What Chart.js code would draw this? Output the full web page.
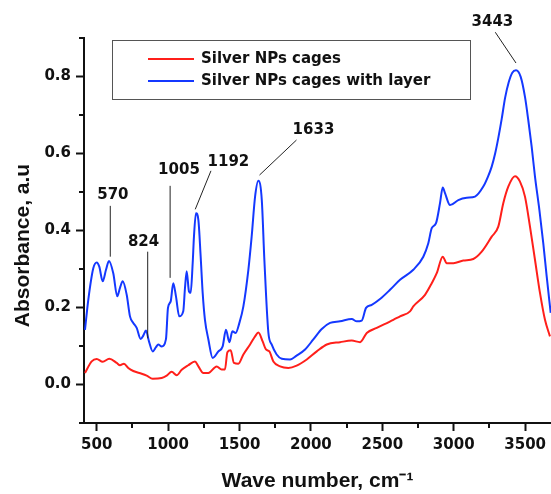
<!DOCTYPE html>
<html><head><meta charset="utf-8">
<script src="https://cdn.jsdelivr.net/npm/chart.js@4.4.1/dist/chart.umd.min.js"></script>
<style>html,body{margin:0;padding:0;background:#fff;overflow:hidden}#wrap{width:551px;height:494px;position:relative}</style>
</head><body><div id="wrap"><canvas id="c" width="551" height="494"></canvas></div>
<script>
// ---- data ----
const seriesLabels = ['Silver NPs cages', 'Silver NPs cages with layer'];
const yAxisTitle = 'Absorbance, a.u';
const xAxisTitle = 'Wave number, cm\u207B\u00B9';

const redWavenumber = [418,465,500,542,588,640,663,691,721,756,815,850,892,955,990,1025,1060,1095,1141,1188,1212,1247,1282,1340,1375,1398,1415,1438,1461,1492,1527,1574,1609,1632,1662,1685,1709,1737,1784,1842,1900,1971,2041,2111,2204,2286,2344,2391,2461,2577,2624,2694,2717,2799,2846,2881,2923,2951,2998,3067,3137,3196,3266,3312,3347,3382,3429,3464,3499,3534,3569,3604,3639,3674];
const redAbsorbance = [0.030,0.060,0.066,0.059,0.067,0.056,0.050,0.054,0.043,0.035,0.028,0.023,0.015,0.017,0.023,0.033,0.024,0.038,0.050,0.060,0.047,0.030,0.030,0.047,0.039,0.039,0.084,0.089,0.056,0.054,0.078,0.104,0.125,0.135,0.112,0.091,0.086,0.060,0.047,0.043,0.049,0.065,0.086,0.104,0.110,0.114,0.110,0.134,0.147,0.168,0.177,0.190,0.203,0.233,0.263,0.289,0.332,0.315,0.315,0.322,0.326,0.345,0.384,0.410,0.471,0.514,0.541,0.527,0.488,0.410,0.324,0.238,0.168,0.125];

const blueWavenumber = [418,441,476,500,518,542,565,586,616,644,663,682,710,733,756,780,808,826,845,866,892,915,931,955,985,999,1018,1036,1055,1078,1106,1118,1130,1146,1158,1172,1181,1195,1212,1228,1242,1258,1282,1312,1352,1382,1405,1429,1450,1473,1499,1527,1562,1585,1609,1632,1656,1674,1702,1725,1760,1796,1854,1900,1959,2017,2076,2134,2204,2286,2321,2356,2386,2426,2484,2554,2624,2717,2787,2822,2846,2876,2904,2923,2939,2974,3032,3091,3149,3207,3240,3266,3290,3312,3336,3360,3385,3410,3436,3469,3499,3522,3546,3569,3600,3627,3651,3679];
const blueAbsorbance = [0.142,0.220,0.302,0.317,0.306,0.268,0.298,0.321,0.289,0.229,0.251,0.268,0.233,0.177,0.160,0.147,0.118,0.127,0.140,0.112,0.086,0.097,0.104,0.099,0.118,0.199,0.216,0.263,0.229,0.177,0.190,0.250,0.294,0.242,0.238,0.315,0.384,0.445,0.427,0.332,0.238,0.168,0.117,0.069,0.086,0.099,0.142,0.110,0.138,0.134,0.160,0.203,0.298,0.384,0.488,0.529,0.479,0.324,0.135,0.104,0.078,0.067,0.065,0.075,0.091,0.117,0.144,0.160,0.164,0.170,0.164,0.166,0.199,0.207,0.222,0.246,0.272,0.298,0.332,0.367,0.406,0.419,0.471,0.512,0.497,0.466,0.479,0.485,0.488,0.514,0.540,0.566,0.600,0.640,0.690,0.745,0.785,0.810,0.816,0.799,0.747,0.687,0.617,0.540,0.453,0.367,0.281,0.186];

const xTickValues = [500,750,1000,1250,1500,1750,2000,2250,2500,2750,3000,3250,3500];
const xLabelValues = [500,1000,1500,2000,2500,3000,3500];
const yTickValues = [-0.1,0,0.1,0.2,0.3,0.4,0.5,0.6,0.7,0.8,0.9];
const yLabelValues = [0,0.2,0.4,0.6,0.8];

// peak callouts: label text, text anchor and leader line (in data units)
const peakCallouts = [
  {text:'570',  tx:613,  ty:0.492, x1:595,  y1:0.464, x2:595,  y2:0.332},
  {text:'824',  tx:828,  ty:0.369, x1:857,  y1:0.345, x2:857,  y2:0.120},
  {text:'1005', tx:1076, ty:0.557, x1:1014, y1:0.516, x2:1014, y2:0.277},
  {text:'1192', tx:1422, ty:0.578, x1:1300, y1:0.555, x2:1190, y2:0.455},
  {text:'1633', tx:2018, ty:0.662, x1:1899, y1:0.635, x2:1640, y2:0.544},
  {text:'3443', tx:3271, ty:0.941, x1:3291, y1:0.915, x2:3436, y2:0.835}
];

const toXY = (xs, ys) => xs.map((x, i) => ({x: x, y: ys[i]}));
const TICK_FONT = {family: 'DejaVu Sans', weight: 'bold', size: 15};
const INK = '#111';

const minorTicks = {
  id: 'minorTicks',
  afterDraw(chart) {
    const ctx = chart.ctx, xs = chart.scales.x, ys = chart.scales.y;
    ctx.save();
    ctx.strokeStyle = INK; ctx.lineWidth = 2;
    xTickValues.filter(v => !xLabelValues.includes(v)).forEach(v => {
      const px = Math.round(xs.getPixelForValue(v));
      ctx.beginPath(); ctx.moveTo(px, xs.top); ctx.lineTo(px, xs.top + 5); ctx.stroke();
    });
    yTickValues.filter(v => !yLabelValues.some(l => Math.abs(l - v) < 1e-6)).forEach(v => {
      const py = Math.round(ys.getPixelForValue(v));
      ctx.beginPath(); ctx.moveTo(ys.right, py); ctx.lineTo(ys.right - 5, py); ctx.stroke();
    });
    // y axis title, centred a little below the middle of the plot as in the source
    ctx.translate(23, (ys.top + ys.bottom) / 2 + 15);
    ctx.rotate(-Math.PI / 2);
    ctx.font = 'bold 21px "Liberation Sans"';
    ctx.fillStyle = INK; ctx.textAlign = 'center'; ctx.textBaseline = 'middle';
    ctx.fillText(yAxisTitle, 0, 0);
    ctx.restore();
  }
};

const boxedLegend = {
  id: 'boxedLegend',
  afterDraw(chart) {
    const ctx = chart.ctx, ca = chart.chartArea;
    const bx = ca.left + 28, by = ca.top + 2, bw = 358, bh = 59;
    ctx.save();
    ctx.strokeStyle = '#555'; ctx.lineWidth = 1;
    ctx.strokeRect(bx + 0.5, by + 0.5, bw, bh);
    ctx.font = 'bold 15px "DejaVu Sans"';
    ctx.textBaseline = 'middle'; ctx.textAlign = 'left'; ctx.fillStyle = INK;
    chart.data.datasets.forEach((ds, i) => {
      const ly = by + 19 + i * 22;
      ctx.strokeStyle = ds.borderColor; ctx.lineWidth = 2;
      ctx.beginPath(); ctx.moveTo(bx + 36, ly); ctx.lineTo(bx + 82, ly); ctx.stroke();
      ctx.fillText(ds.label, bx + 89, ly);
    });
    ctx.restore();
  }
};

const callouts = {
  id: 'callouts',
  afterDatasetsDraw(chart) {
    const ctx = chart.ctx, xs = chart.scales.x, ys = chart.scales.y;
    ctx.save();
    ctx.strokeStyle = '#222'; ctx.lineWidth = 1;
    ctx.fillStyle = INK; ctx.font = 'bold 15px "DejaVu Sans"';
    ctx.textAlign = 'center'; ctx.textBaseline = 'middle';
    peakCallouts.forEach(c => {
      ctx.beginPath();
      ctx.moveTo(xs.getPixelForValue(c.x1), ys.getPixelForValue(c.y1));
      ctx.lineTo(xs.getPixelForValue(c.x2), ys.getPixelForValue(c.y2));
      ctx.stroke();
      ctx.fillText(c.text, xs.getPixelForValue(c.tx), ys.getPixelForValue(c.ty));
    });
    ctx.restore();
  }
};

new Chart(document.getElementById('c'), {
  type: 'line',
  data: {
    datasets: [
      {label: seriesLabels[0], data: toXY(redWavenumber, redAbsorbance), borderColor: '#ff1f1a', borderWidth: 2, pointRadius: 0, cubicInterpolationMode: 'monotone', fill: false},
      {label: seriesLabels[1], data: toXY(blueWavenumber, blueAbsorbance), borderColor: '#1438ff', borderWidth: 2, pointRadius: 0, cubicInterpolationMode: 'monotone', fill: false}
    ]
  },
  options: {
    responsive: false, animation: false, devicePixelRatio: 1,
    layout: {padding: {top: 38, right: 0, bottom: 0, left: 0}},
    plugins: {legend: {display: false}, tooltip: {enabled: false}},
    scales: {
      x: {
        type: 'linear', min: 411, max: 3681,
        afterBuildTicks: s => { s.ticks = xTickValues.map(v => ({value: v})); },
        afterFit: s => { s.height = 71; },
        ticks: {autoSkip: false, maxRotation: 0, padding: 5, color: INK, font: TICK_FONT,
          callback: v => xLabelValues.includes(v) ? String(v) : ''},
        grid: {drawOnChartArea: false, tickLength: 8, tickWidth: 2,
          tickColor: c => (c.tick && xLabelValues.includes(c.tick.value)) ? INK : 'rgba(0,0,0,0)'},
        border: {display: true, color: INK, width: 2},
        title: {display: true, text: xAxisTitle, color: INK,
          font: {family: 'Liberation Sans', weight: 'bold', size: 21}, padding: {top: 0, bottom: 0}}
      },
      y: {
        type: 'linear', min: -0.1, max: 0.9,
        afterBuildTicks: s => { s.ticks = yTickValues.map(v => ({value: v})); },
        afterFit: s => { s.width = 84; },
        ticks: {autoSkip: false, padding: 5, color: INK, font: TICK_FONT,
          callback: v => yLabelValues.some(l => Math.abs(l - v) < 1e-6) ? v.toFixed(1) : ''},
        grid: {drawOnChartArea: false, tickLength: 8, tickWidth: 2,
          tickColor: c => (c.tick && yLabelValues.some(l => Math.abs(l - c.tick.value) < 1e-6)) ? INK : 'rgba(0,0,0,0)'},
        border: {display: true, color: INK, width: 2},
        title: {display: false}
      }
    }
  },
  plugins: [minorTicks, callouts, boxedLegend]
});
</script></body></html>
